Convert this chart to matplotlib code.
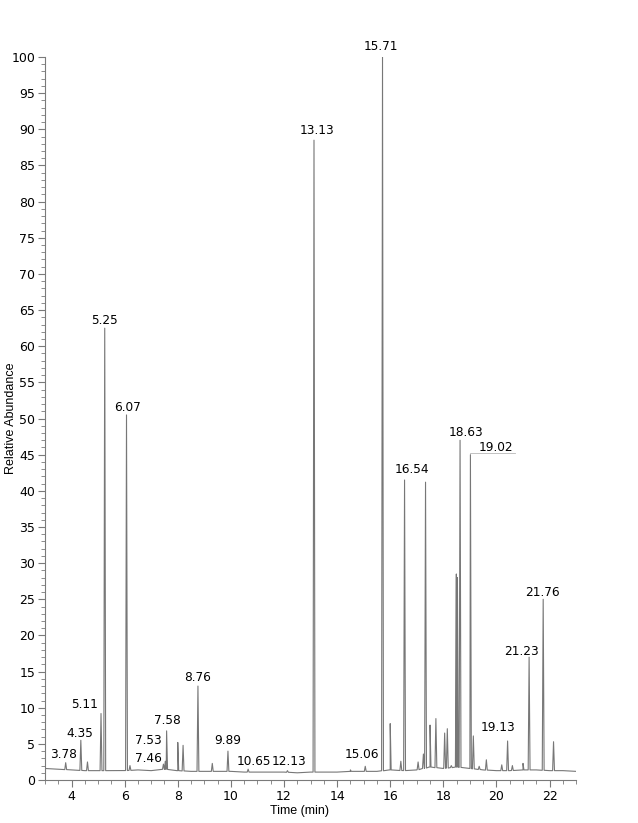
import numpy as np
import matplotlib.pyplot as plt

# linea base leida cada 0.5 min
base_t = np.arange(3.0, 23.01, 0.5)
base_y = [1.6, 1.5, 1.4, 1.3, 1.3, 1.3, 1.3, 1.4, 1.3, 1.5,
          1.3, 1.2, 1.2, 1.2, 1.2, 1.1, 1.1, 1.1, 1.1, 1.0,
          1.1, 1.1, 1.1, 1.2, 1.2, 1.2, 1.4, 1.3, 1.4, 1.8,
          1.6, 1.8, 1.6, 1.4, 1.3, 1.3, 1.4, 1.4, 1.3, 1.3, 1.2]

# picos: tiempo de retencion y altura
picos_t = [3.78, 4.35, 4.60, 5.11, 5.25, 6.07, 6.20, 7.46, 7.53, 7.58,
           8.00, 8.20, 8.76, 9.30, 9.89, 10.65, 12.13, 13.13, 14.50, 15.06,
           15.71, 16.00, 16.40, 16.54, 17.05, 17.25, 17.33, 17.50, 17.72, 18.05,
           18.15, 18.30, 18.49, 18.53, 18.63, 19.02, 19.13, 19.35, 19.62, 20.20,
           20.42, 20.60, 21.00, 21.23, 21.76, 22.15]
picos_h = [2.4, 5.5, 2.5, 9.2, 62.5, 50.5, 2.0, 2.2, 2.6, 6.8,
           5.2, 4.8, 13.0, 2.3, 4.0, 1.5, 1.3, 88.5, 1.4, 1.9,
           100.0, 7.8, 2.6, 41.5, 2.5, 3.6, 41.2, 7.6, 8.5, 6.5,
           7.1, 2.0, 28.5, 28.0, 47.0, 45.0, 6.1, 1.9, 2.8, 2.1,
           5.4, 2.0, 2.3, 17.0, 25.0, 5.3]

etiquetas = ["3.78", "4.35", "5.11", "5.25", "6.07", "7.46", "7.53", "7.58", "8.76",
             "9.89", "10.65", "12.13", "13.13", "15.06", "15.71", "16.54", "18.63",
             "19.02", "19.13", "21.23", "21.76"]
# posicion de cada etiqueta (x, y)
pos_etiquetas = [(3.68, 3.5), (4.32, 6.5), (4.5, 10.4), (5.26, 63.6), (6.09, 51.5),
                 (6.88, 3.0), (6.88, 5.4), (7.6, 8.2), (8.76, 14.2), (9.89, 5.4),
                 (10.87, 2.5), (12.19, 2.5), (13.24, 89.9), (14.94, 3.5), (15.65, 101.4),
                 (16.82, 42.9), (18.85, 48.0), (20.0, 46.0), (20.06, 7.3), (20.96, 17.8),
                 (21.75, 26.0)]

# armo el cromatograma: base + triangulos angostos en cada pico
t = list(base_t)
y = list(base_y)
for tp, hp in zip(picos_t, picos_h):
    b = np.interp(tp, base_t, base_y)
    t += [tp - 0.035, tp, tp + 0.035]
    y += [b, hp, b]
orden = np.argsort(t, kind="stable")
t = np.array(t)[orden]
y = np.array(y)[orden]

fig = plt.figure(figsize=(6.38, 8.23), dpi=100)
ax = fig.add_axes([0.0705, 0.0522, 0.8325, 0.8785])

gris = "#7a7a7a"
ax.plot(t, y, color="#777777", linewidth=0.8)
ax.plot([19.02, 20.7], [45.2, 45.2], color="#b8b8b8", linewidth=0.6)

for txt, (xp, yp) in zip(etiquetas, pos_etiquetas):
    ax.text(xp, yp, txt, ha="center", va="center", fontsize=8.7, clip_on=False)

ax.set_xlim(3, 23)
ax.set_ylim(0, 100)
ax.set_xticks(np.arange(4, 23, 2))
ax.set_xticks(np.arange(3, 23.01, 0.5), minor=True)
ax.set_yticks(np.arange(0, 101, 5))
ax.set_yticks(np.arange(0, 101, 1), minor=True)

for s in ["top", "right"]:
    ax.spines[s].set_visible(False)
for s in ["left", "bottom"]:
    ax.spines[s].set_color(gris)
    ax.spines[s].set_linewidth(0.8)

ax.tick_params(which="major", length=5, color=gris, labelsize=9, pad=2)
ax.tick_params(which="minor", length=3, color=gris)

ax.set_xlabel("Time (min)", fontsize=9, family="Liberation Sans")
ax.xaxis.set_label_coords(0.48, -0.034)
ax.set_ylabel("Relative Abundance", fontsize=9, family="Liberation Sans")
ax.yaxis.set_label_coords(-0.053, 0.5)

fig.savefig("out.png", dpi=100)
